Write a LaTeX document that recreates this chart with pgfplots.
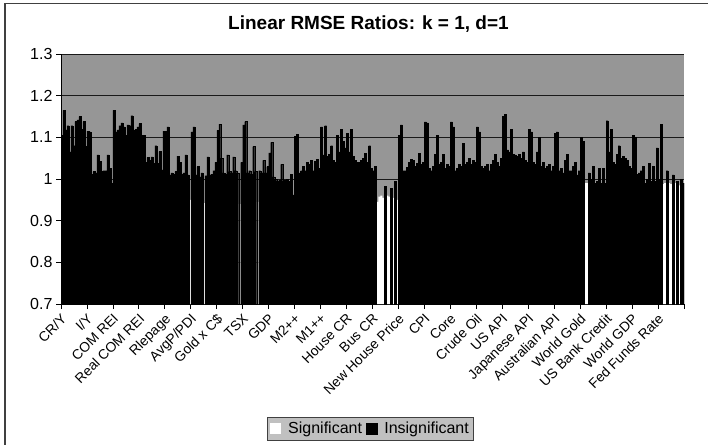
\documentclass[border=0pt]{standalone}
\usepackage{fontspec}
\setmainfont{Liberation Sans}
\usepackage{pgfplots}
\pgfplotsset{compat=1.18}
\definecolor{plotgray}{RGB}{150,150,150}
\definecolor{leggray}{RGB}{192,192,192}

\begin{document}
\begin{tikzpicture}
\useasboundingbox (-61pt,-140pt) rectangle (647pt,304pt);
\begin{axis}[
  scale only axis, width=623pt, height=250pt,
  at={(0pt,0pt)}, anchor=south west,
  xmin=-0.5, xmax=311.5, ymin=0.7, ymax=1.3,
  axis x line*=bottom, axis y line*=left,
  axis line style={black, line width=0.9pt},
  axis background/.style={fill=plotgray},
  ytick={0.7,0.8,0.9,1,1.1,1.2,1.3},
  ymajorgrids, major grid style={black!90, line width=0.9pt},
  xtick={-0.5,12.5,25.5,38.5,51.5,64.5,77.5,90.5,103.5,116.5,129.5,142.5,155.5,168.5,181.5,194.5,207.5,220.5,233.5,246.5,259.5,272.5,285.5,298.5,311.5},
  xticklabels={CR/Y, I/Y, COM REI, Real COM REI, Rlepage, AvgP/PDI, Gold x C\$, TSX, GDP, M2++, M1++, House CR, Bus CR, New House Price, CPI, Core, Crude Oil, US API, Japanese API, Australian API, World Gold, US Bank Credit, World GDP, Fed Funds Rate, {}},
  tick align=outside, major tick length=5pt,
  tick style={black, line width=0.8pt},
  /pgf/number format/assume math mode=true,
  yticklabel style={font=\fontsize{16}{16}\selectfont},
  xticklabel style={font=\fontsize{13.8}{13.8}\selectfont, rotate=45, anchor=north east, inner sep=1pt, xshift=-2pt, yshift=-1pt},
  ybar, bar width=1,
  legend style={at={(0.4968,-0.498)}, anchor=center, legend columns=-1,
    fill=leggray, draw=black!75, line width=0.8pt,
    font=\fontsize{16}{16}\selectfont, inner xsep=3pt, inner ysep=3pt,
    /tikz/every even column/.append style={column sep=2pt},
    /tikz/every odd column/.append style={column sep=5pt}},
  legend image code/.code={\fill[#1] (0pt,-5.5pt) rectangle (11pt,5.5pt);},
]
\addplot[fill=white, draw=none, bar shift=0pt] coordinates {
(64,0.95) (71,0.942) (89,0.94) (98,0.945)
(158,0.945) (159,0.958) (160,0.96) (161,0.955) (163,0.96) (164,0.958) (166,0.955) (168,0.95)
(262,0.99) (263,0.99)
(301,0.988) (302,0.99) (304,0.99) (305,0.988) (307,0.99) (309,0.985)
};
\addlegendentry{Significant}
\addplot[fill=black, draw=black, line width=0.3pt, bar shift=0pt] coordinates {
(0,1.105)(1,1.165)(2,1.118)(3,1.128)(4,1.065)(5,1.128)(6,1.08)(7,1.138)(8,1.142)(9,1.15)(10,1.12)(11,1.138)(12,1.078)
(13,1.115)(14,1.113)(15,1.012)(16,1.018)(17,1.015)(18,1.058)(19,1.042)(20,1.018)(21,1.02)(22,1.02)(23,1.058)(24,1.025)(25,0.99)
(26,1.165)(27,1.113)(28,1.118)(29,1.128)(30,1.135)(31,1.125)(32,1.105)(33,1.13)(34,1.128)(35,1.152)(36,1.117)(37,1.12)(38,1.125)
(39,1.133)(40,1.105)(41,1.105)(42,1.04)(43,1.052)(44,1.045)(45,1.053)(46,1.037)(47,1.08)(48,1.037)(49,1.066)(50,1.022)(51,1.115)
(52,1.115)(53,1.125)(54,1.01)(55,1.015)(56,1.012)(57,1.018)(58,1.055)(59,1.04)(60,1.012)(61,1.015)(62,1.058)(63,1.01)
(65,1.113)(66,1.125)(67,1.01)(68,1.03)(69,1.005)(70,1.015)(72,1.008)(73,1.053)(74,1.01)(75,1.012)(76,1.02)(77,1.04)
(78,1.117)(79,1.132)(80,1.05)(81,1.015)(82,1.012)(83,1.058)(84,1.018)(85,1.015)(86,1.053)(87,1.02)(88,1.015)(90,1.04)
(91,1.13)(92,1.138)(93,1.015)(94,1.02)(95,1.012)(96,1.078)(97,1.018)(99,1.02)(100,1.015)(101,1.045)(102,1.015)(103,1.03)
(104,1.063)(105,1.088)(106,1.005)(107,1.0)(108,0.995)(109,0.998)(110,1.035)(111,0.995)(112,0.998)(113,1.0)(114,0.995)(115,1.012)(116,0.962)
(117,1.102)(118,1.107)(119,1.015)(120,1.02)(121,1.03)(122,1.02)(123,1.04)(124,1.035)(125,1.045)(126,1.02)(127,1.042)(128,1.048)(129,1.025)
(130,1.125)(131,1.058)(132,1.128)(133,1.055)(134,1.06)(135,1.08)(136,1.045)(137,1.04)(138,1.105)(139,1.065)(140,1.12)(141,1.09)(142,1.075)
(143,1.11)(144,1.065)(145,1.12)(146,1.055)(147,1.045)(148,1.04)(149,1.04)(150,1.045)(151,1.05)(152,1.062)(153,1.04)(154,1.08)(155,1.025)
(156,1.02)(157,1.03)(162,0.982)(165,0.978)(167,0.995)
(169,1.105)(170,1.13)(171,1.02)(172,1.02)(173,1.028)(174,1.04)(175,1.048)(176,1.045)(177,1.03)(178,1.038)(179,1.062)(180,1.035)(181,1.04)
(182,1.137)(183,1.135)(184,1.025)(185,1.02)(186,1.03)(187,1.06)(188,1.105)(189,1.035)(190,1.04)(191,1.06)(192,1.025)(193,1.035)(194,1.03)
(195,1.137)(196,1.125)(197,1.02)(198,1.025)(199,1.035)(200,1.03)(201,1.085)(202,1.035)(203,1.04)(204,1.05)(205,1.035)(206,1.045)(207,1.04)
(208,1.125)(209,1.113)(210,1.03)(211,1.025)(212,1.03)(213,1.035)(214,1.02)(215,1.035)(216,1.045)(217,1.06)(218,1.04)(219,1.03)(220,1.05)
(221,1.15)(222,1.155)(223,1.07)(224,1.065)(225,1.12)(226,1.06)(227,1.058)(228,1.055)(229,1.06)(230,1.05)(231,1.065)(232,1.045)(233,1.04)
(234,1.12)(235,1.113)(236,1.04)(237,1.035)(238,1.065)(239,1.1)(240,1.03)(241,1.04)(242,1.025)(243,1.03)(244,1.035)(245,1.02)(246,1.03)
(247,1.11)(248,1.113)(249,1.02)(250,1.025)(251,1.015)(252,1.045)(253,1.06)(254,1.02)(255,1.02)(256,1.03)(257,1.04)(258,1.01)(259,1.02)
(260,1.1)(261,1.09)(264,1.015)(265,1.0)(266,1.03)(267,0.99)(268,0.995)(269,1.025)(270,0.99)(271,1.025)(272,0.99)
(273,1.14)(274,1.065)(275,1.12)(276,1.04)(277,1.035)(278,1.06)(279,1.08)(280,1.05)(281,1.055)(282,1.05)(283,1.045)(284,1.03)(285,1.025)
(286,1.105)(287,1.1)(288,1.012)(289,1.015)(290,1.02)(291,1.03)(292,0.99)(293,1.0)(294,1.038)(295,0.995)(296,1.03)(297,0.995)(298,1.075)
(299,1.0)(300,1.132)(303,1.02)(306,1.01)(308,0.995)(310,1.0)(311,0.99)
};
\addlegendentry{Insignificant}
\end{axis}
\node[font=\bfseries\fontsize{19}{19}\selectfont, anchor=base] at (307.5pt,274.7pt) {Linear RMSE Ratios: k = 1, d=1};
\draw[line width=1.2pt, black!75] (-56pt,300.7pt) rectangle (700pt,-200pt);
\end{tikzpicture}
\end{document}
